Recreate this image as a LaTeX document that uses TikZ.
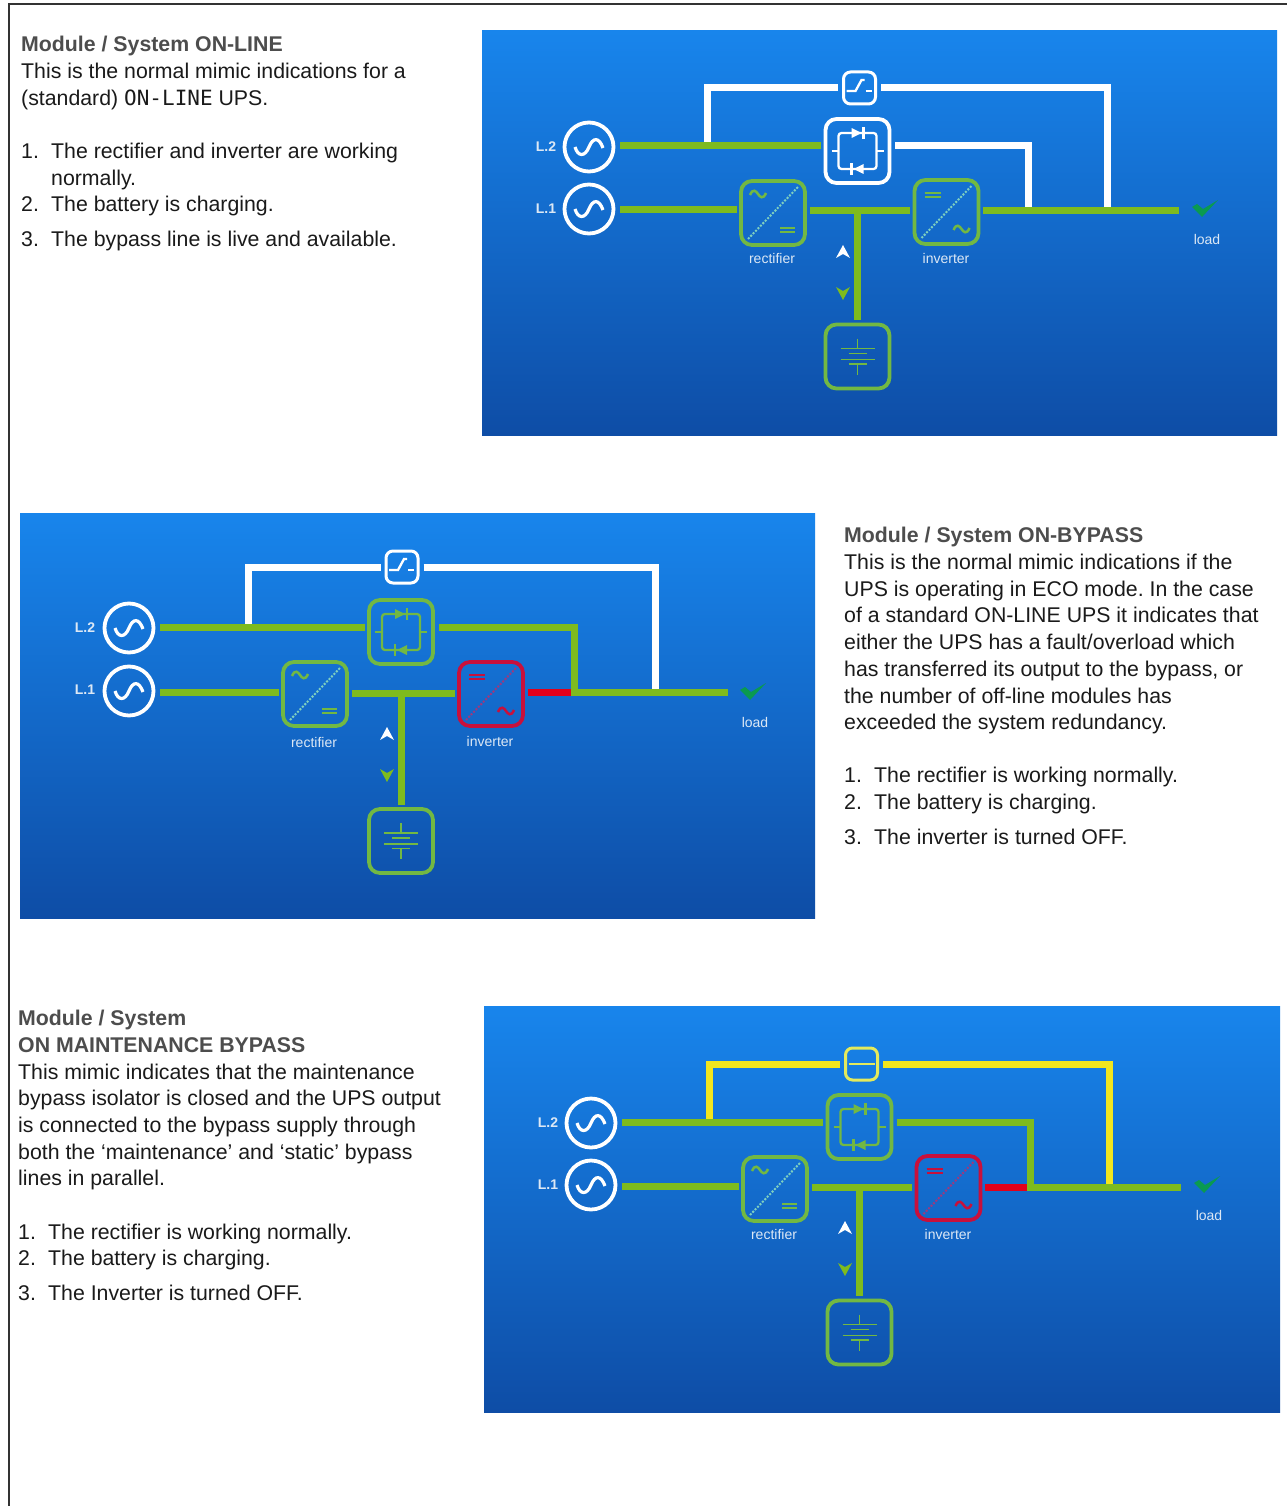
\documentclass[tikz,border=0pt]{standalone}
\usepackage{fontspec}
\setmainfont{Liberation Sans}
\setmonofont{DejaVu Sans Mono}
\frenchspacing
\definecolor{wgreen}{HTML}{7EBB1E}
\definecolor{bgreen}{HTML}{72B843}
\definecolor{wyellow}{HTML}{F2E61E}
\definecolor{byellow}{HTML}{E4EA5C}
\definecolor{wred}{HTML}{E2001A}
\definecolor{bred}{HTML}{C8103C}
\definecolor{ptop}{HTML}{1885EC}
\definecolor{pmid}{HTML}{1066C6}
\definecolor{pbot}{HTML}{0E4DA6}
\definecolor{head}{HTML}{4D4D4D}
\definecolor{body}{HTML}{1A1A1A}
\definecolor{lab}{HTML}{DCE8F5}
\definecolor{chk}{HTML}{0A9A50}
\definecolor{dotg}{HTML}{7FD0C0}
\definecolor{dotr}{HTML}{9A3A80}
\tikzset{
  wire/.style={line width=7pt,line join=miter},
  boxn/.style={draw,rounded corners=11pt,line width=3.8pt,minimum size=64pt,inner sep=0pt,outer sep=4.5pt},
  swbox/.style={draw,rounded corners=7pt,line width=3pt,minimum size=32pt,inner sep=0pt,outer sep=5.5pt},
  srcn/.style={circle,draw=white,line width=3.8pt,minimum size=49pt,inner sep=0pt,outer sep=6.5pt},
  ico/.style={line width=2.3pt},
  lbl/.style={text=lab,font=\fontsize{14}{14}\selectfont,inner sep=0pt,anchor=center},
  tx/.style={anchor=base west,inner sep=0pt,text=body,font=\fontsize{21.3}{26}\selectfont},
  hd/.style={anchor=base west,inner sep=0pt,text=head,font=\fontsize{21.3}{26}\selectfont\bfseries},
}
\newcommand\geomA[2]{%
  \coordinate (gLtwo) at (#1+589,#2+147);\coordinate (gLone) at (#1+589,#2+209);
  \coordinate (gLtwoT) at (#1+546,#2+147);\coordinate (gLoneT) at (#1+546,#2+209);
  \coordinate (grect) at (#1+773,#2+213);\coordinate (gstat) at (#1+857.5,#2+151);
  \coordinate (gtop) at (#1+859.5,#2+88);\coordinate (ginv) at (#1+946.5,#2+212);
  \coordinate (gbatt) at (#1+857.5,#2+356.5);
  \coordinate (gbtwo) at (#1+707,#2+146);\coordinate (gbone) at (#1+620,#2+210);\coordinate (gbus) at (#1+857,#2+211);
  \coordinate (gso) at (#1+895,#2+146);\coordinate (gjone) at (#1+1028,#2+211);\coordinate (gjtwo) at (#1+1107,#2+211);
  \coordinate (gend) at (#1+1179,#2+211);
  \coordinate (grectT) at (#1+772,#2+258);\coordinate (ginvT) at (#1+946,#2+258);\coordinate (gloadT) at (#1+1207,#2+239);
  \coordinate (garr) at (#1+843,#2+245);\coordinate (gchk) at (#1+1192,#2+207);
}
\newcommand\geomB{%
  \coordinate (gLtwo) at (129,628);\coordinate (gLone) at (129,691);
  \coordinate (gLtwoT) at (85,628);\coordinate (gLoneT) at (85,690);
  \coordinate (grect) at (315,694);\coordinate (gstat) at (401,632);
  \coordinate (gtop) at (402,567);\coordinate (ginv) at (491,694);
  \coordinate (gbatt) at (401,841);
  \coordinate (gbtwo) at (248,627);\coordinate (gbone) at (160,692);\coordinate (gbus) at (401,693);
  \coordinate (gso) at (439,627);\coordinate (gjone) at (574,692);\coordinate (gjtwo) at (655,692);
  \coordinate (gend) at (728,692);
  \coordinate (grectT) at (314,742);\coordinate (ginvT) at (490,741);\coordinate (gloadT) at (755,722);
  \coordinate (garr) at (387,727);\coordinate (gchk) at (740,690);
}
\newcommand\tild[3]{\draw[#3,line width=2.5pt,shift={(#1,#2)}] (-8,1) .. controls (-5,-6) and (-2,-3) .. (0,0) .. controls (2,3) and (5,6) .. (8,-1);}
% #1 prefix, #2 top colour, #3 top box colour, #4 switch kind (0 closed ramp, 1 bar), #5 static colour, #6 static-out colour, #7 inverter colour, #8 segment colour, #9 dotted colour for inverter
\newcommand\mimic[9]{%
  \node[srcn] (#1-Ltwo) at (gLtwo) {};
  \node[srcn] (#1-Lone) at (gLone) {};
  \node[lbl,font=\fontsize{14}{14}\selectfont\bfseries] (#1-Ltwot) at (gLtwoT) {L.2};
  \node[lbl,font=\fontsize{14}{14}\selectfont\bfseries] (#1-Lonet) at (gLoneT) {L.1};
  \node[boxn,draw=bgreen] (#1-rect) at (grect) {};
  \node[boxn,draw=#5] (#1-stat) at (gstat) {};
  \node[swbox,draw=#3] (#1-top) at (gtop) {};
  \node[boxn,draw=#7] (#1-inv) at (ginv) {};
  \node[boxn,draw=bgreen] (#1-batt) at (gbatt) {};
  \coordinate (#1-btwo) at (gbtwo);
  \coordinate (#1-bone) at (gbone);
  \coordinate (#1-bus) at (gbus);
  \coordinate (#1-so) at (gso);
  \coordinate (#1-jone) at (gjone);
  \coordinate (#1-jtwo) at (gjtwo);
  \coordinate (#1-end) at (gend);
  % connectors
  \draw[wire,#2] (#1-top.west) -| (#1-btwo);
  \draw[wire,#2] (#1-top.east) -| (#1-jtwo);
  \draw[wire,#6] (#1-so) -| (#1-jone);
  \draw[wire,wgreen] (#1-btwo -| #1-Ltwo.east) -- (#1-btwo -| #1-stat.west);
  \draw[wire,wgreen] (#1-bone -| #1-Lone.east) -- (#1-bone -| #1-rect.west);
  \draw[wire,wgreen] (#1-bus -| #1-rect.east) -- (#1-bus -| #1-inv.west);
  \draw[wire,wgreen] (#1-bus) -- (#1-bus |- #1-batt.north);
  \draw[wire,#8] (#1-jone -| #1-inv.east) -- ([xshift=-3.5pt]#1-jone);
  \draw[wire,wgreen] ([xshift=-3.5pt]#1-jone) -- (#1-end);
  % source icons
  \draw[white,line width=3.2pt,shift={(#1-Ltwo.center)}] (-14,0) .. controls (-11,10) and (-4,10) .. (0,0) .. controls (4,-10) and (10,-10) .. (14,1);
  \draw[white,line width=3.2pt,shift={(#1-Lone.center)}] (-14,0) .. controls (-11,10) and (-4,10) .. (0,0) .. controls (4,-10) and (10,-10) .. (14,1);
  % rectifier icon
  \begin{scope}[shift={(#1-rect.center)}]
    \draw[dotg,line width=2pt,dash pattern=on 2pt off 1.5pt] (-25,26) -- (25,-26);
    \tild{-15}{-19}{bgreen}
    \draw[bgreen,line width=2.5pt] (7,15) -- (22,15) (7,19) -- (22,19);
  \end{scope}
  % inverter icon
  \begin{scope}[shift={(#1-inv.center)}]
    \draw[#9,line width=2pt,dash pattern=on 2pt off 1.5pt] (-25,26) -- (25,-26);
    \tild{15}{17}{#7}
    \draw[#7,line width=2.5pt] (-22,-19) -- (-6,-19) (-22,-15) -- (-6,-15);
  \end{scope}
  % static switch icon
  \begin{scope}[shift={(#1-stat.center)}]
    \draw[#5,ico,rounded corners=3pt] (-19,-18) rectangle (19,18);
    \draw[#5,ico] (-26,0) -- (-19,0) (19,0) -- (26,0);
    \fill[#5] (-6,-23) -- (4,-18) -- (-6,-13) -- cycle;
    \draw[#5,ico] (6,-24) -- (6,-12);
    \fill[#5] (6,23) -- (-4,18) -- (6,13) -- cycle;
    \draw[#5,ico] (-6,24) -- (-6,12);
  \end{scope}
  % top switch icon
  \begin{scope}[shift={(#1-top.center)}]
    \ifnum#4=0
      \draw[#3,ico] (-13,3) -- (-4,3) -- (2,-8) -- (5,-8);
      \draw[#3,ico] (6,3) -- (12,3);
    \else
      \draw[#3,ico] (-13,0) -- (13,0);
    \fi
  \end{scope}
  % battery icon
  \begin{scope}[shift={(#1-batt.center)}]
    \draw[bgreen,line width=1.8pt] (0,-18) -- (0,-8) (-17,-8) -- (17,-8) (-9,-3) -- (9,-3) (-17,3) -- (17,3) (-9,7.5) -- (9,7.5) (0,7.5) -- (0,18);
  \end{scope}
  % flow arrows
  \begin{scope}[shift={(garr)}]
    \fill[white] (0,0) -- (7,13) -- (0,9) -- (-7,13) -- cycle;
    \fill[wgreen] (0,55) -- (7,42) -- (0,46) -- (-7,42) -- cycle;
  \end{scope}
  % load check
  \begin{scope}[shift={(gchk)}]
    \fill[chk] (0,0) -- (5,-3) -- (11,2) -- (26,-7) -- (10,10) -- cycle;
  \end{scope}
  \node[lbl] (#1-rectT) at (grectT) {rectifier};
  \node[lbl] (#1-invT) at (ginvT) {inverter};
  \node[lbl] (#1-loadT) at (gloadT) {load};
}
\begin{document}
\begin{tikzpicture}[x=1pt,y=-1pt]
\useasboundingbox (0,0) rectangle (1287,1506);
\fill[white] (0,0) rectangle (1287,1506);
\draw[line width=2pt,color=black!80] (9,1506) -- (9,4) -- (1287,4);
% panels
\shade[top color=ptop,middle color=pmid,bottom color=pbot] (482,30.5) rectangle (1277,435);
\shade[top color=ptop,middle color=pmid,bottom color=pbot] (20,513) rectangle (815,918);
\shade[top color=ptop,middle color=pmid,bottom color=pbot] (484,1006) rectangle (1280,1412);
% mimics
\geomA{0}{0}
\mimic{a}{white}{white}{0}{white}{white}{bgreen}{wgreen}{dotg}
\geomB
\mimic{b}{white}{white}{0}{bgreen}{wgreen}{bred}{wred}{dotr}
\geomA{2}{976}
\mimic{c}{wyellow}{byellow}{1}{bgreen}{wgreen}{bred}{wred}{dotr}
% text block 1
\node[hd] (t1) at (21,52) {Module / System ON-LINE};
\node[tx] (t2) at (21,79) {This is the normal mimic indications for a};
\node[tx] (t3) at (21,105.5) {(standard) {\ttfamily\fontsize{21}{26}\selectfont ON-LINE} UPS.};
\node[tx] (t4) at (21,159) {1.};
\node[tx] (t5) at (51,159) {The rectifier and inverter are working};
\node[tx] (t6) at (51,186) {normally.};
\node[tx] (t7) at (21,212) {2.};
\node[tx] (t8) at (51,212) {The battery is charging.};
\node[tx] (t9) at (21,247) {3.};
\node[tx] (t10) at (51,247) {The bypass line is live and available.};
% text block 2
\node[hd] (u1) at (844,542) {Module / System ON-BYPASS};
\node[tx] (u2) at (844,569) {This is the normal mimic indications if the};
\node[tx] (u3) at (844,596) {UPS is operating in ECO mode. In the case};
\node[tx] (u4) at (844,622) {of a standard ON-LINE UPS it indicates that};
\node[tx] (u5) at (844,649) {either the UPS has a fault/overload which};
\node[tx] (u6) at (844,676) {has transferred its output to the bypass, or};
\node[tx] (u7) at (844,703) {the number of off-line modules has};
\node[tx] (u8) at (844,729) {exceeded the system redundancy.};
\node[tx] (u9) at (844,782) {1.};
\node[tx] (u10) at (874,782) {The rectifier is working normally.};
\node[tx] (u11) at (844,809) {2.};
\node[tx] (u12) at (874,809) {The battery is charging.};
\node[tx] (u13) at (844,844) {3.};
\node[tx] (u14) at (874,844) {The inverter is turned OFF.};
% text block 3
\node[hd] (v1) at (18,1025) {Module / System};
\node[hd] (v2) at (18,1052) {ON MAINTENANCE BYPASS};
\node[tx] (v3) at (18,1079) {This mimic indicates that the maintenance};
\node[tx] (v4) at (18,1105) {bypass isolator is closed and the UPS output};
\node[tx] (v5) at (18,1132) {is connected to the bypass supply through};
\node[tx] (v6) at (18,1159) {both the ‘maintenance’ and ‘static’ bypass};
\node[tx] (v7) at (18,1185) {lines in parallel.};
\node[tx] (v8) at (18,1239) {1.};
\node[tx] (v9) at (48,1239) {The rectifier is working normally.};
\node[tx] (v10) at (18,1265) {2.};
\node[tx] (v11) at (48,1265) {The battery is charging.};
\node[tx] (v12) at (18,1300) {3.};
\node[tx] (v13) at (48,1300) {The Inverter is turned OFF.};
\end{tikzpicture}
\end{document}
